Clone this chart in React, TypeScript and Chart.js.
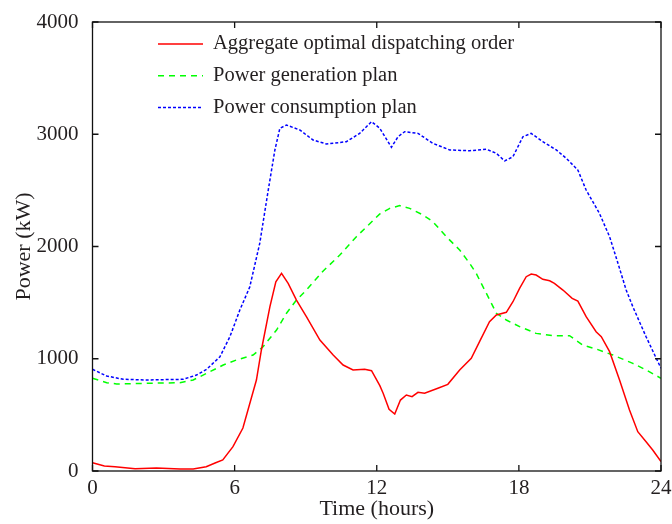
import React, { useEffect, useRef } from 'react';
import { Chart, registerables } from 'chart.js';

Chart.register(...registerables);

const seriesLabels = [
  'Aggregate optimal dispatching order',
  'Power generation plan',
  'Power consumption plan',
];

const aggHours = [0, 0.5, 0.95, 1.8, 2.7, 3.7, 4.25, 4.8, 5.2, 5.5, 5.93, 6.35, 6.92, 7.13, 7.49, 7.74, 7.98, 8.26, 8.61, 9.03, 9.6, 10.16, 10.58, 11.0, 11.49, 11.78, 12.13, 12.27, 12.52, 12.76, 13.0, 13.25, 13.49, 13.74, 14.02, 14.58, 15.0, 15.5, 15.99, 16.34, 16.76, 17.05, 17.47, 17.75, 18.03, 18.31, 18.52, 18.73, 19.01, 19.3, 19.5, 19.86, 20.25, 20.49, 20.84, 21.26, 21.48, 21.83, 22.25, 22.67, 23.02, 23.37, 23.65, 24];
const aggValues = [74, 45, 38, 20, 27, 18, 18, 38, 74, 98, 217, 383, 810, 1078, 1464, 1686, 1761, 1672, 1523, 1375, 1167, 1033, 944, 900, 906, 893, 760, 692, 550, 508, 632, 677, 662, 701, 692, 737, 772, 900, 1004, 1152, 1330, 1390, 1414, 1508, 1627, 1731, 1755, 1746, 1708, 1695, 1672, 1612, 1538, 1514, 1375, 1241, 1196, 1063, 811, 543, 350, 261, 187, 85];

const genHours = [0, 0.6, 1.02, 2.29, 3.69, 4.25, 4.82, 5.52, 6.08, 6.78, 7.2, 7.77, 8.19, 8.61, 9.03, 9.73, 10.44, 11.14, 12.13, 12.55, 12.97, 13.39, 13.95, 14.37, 14.94, 15.5, 15.92, 16.2, 16.41, 16.63, 17.05, 17.47, 18.03, 18.73, 19.44, 20.14, 20.7, 21.26, 21.97, 22.81, 23.37, 24];
const genValues = [826, 787, 775, 781, 787, 811, 870, 944, 989, 1033, 1107, 1256, 1405, 1523, 1612, 1780, 1924, 2087, 2290, 2340, 2364, 2340, 2281, 2221, 2087, 1969, 1850, 1761, 1672, 1583, 1405, 1345, 1286, 1226, 1205, 1205, 1122, 1087, 1033, 959, 900, 826];

const conHours = [0, 0.6, 1.3, 2.29, 3.83, 4.39, 4.82, 5.38, 5.8, 6.22, 6.64, 7.06, 7.42, 7.7, 7.91, 8.19, 8.75, 9.31, 9.88, 10.72, 11.28, 11.78, 12.13, 12.62, 12.9, 13.18, 13.74, 14.37, 15.08, 15.92, 16.63, 17.05, 17.4, 17.75, 18.17, 18.52, 19.01, 19.58, 20.0, 20.49, 20.84, 21.4, 21.83, 22.11, 22.53, 22.81, 23.37, 23.8, 24];
const conValues = [906, 846, 817, 811, 817, 855, 906, 1018, 1196, 1434, 1640, 2028, 2503, 2860, 3053, 3082, 3038, 2949, 2913, 2934, 3008, 3112, 3053, 2884, 2978, 3023, 3008, 2919, 2860, 2853, 2866, 2830, 2762, 2800, 2978, 3008, 2934, 2860, 2786, 2681, 2503, 2296, 2087, 1900, 1612, 1464, 1196, 1004, 915];

const xTickValues = [0, 6, 12, 18, 24];
const yTickValues = [0, 1000, 2000, 3000, 4000];

const FONT = '"Liberation Serif", "Times New Roman", serif';
const TEXT = '#231f20';

export default function App() {
  const ref = useRef<HTMLCanvasElement>(null);

  useEffect(() => {
    if (!ref.current) return;

    const framePlugin = {
      id: 'frame',
      afterDraw(chart: any) {
        const { ctx, chartArea } = chart;
        const { left, right, top, bottom } = chartArea;
        const xs = chart.scales.x;
        const ys = chart.scales.y;
        const tl = 6;
        ctx.save();
        ctx.strokeStyle = '#111';
        ctx.lineWidth = 1.3;
        ctx.strokeRect(left, top, right - left, bottom - top);
        ctx.beginPath();
        xTickValues.forEach((v) => {
          const px = xs.getPixelForValue(v);
          ctx.moveTo(px, bottom);
          ctx.lineTo(px, bottom - tl);
          ctx.moveTo(px, top);
          ctx.lineTo(px, top + tl);
        });
        yTickValues.forEach((v) => {
          const py = ys.getPixelForValue(v);
          ctx.moveTo(left, py);
          ctx.lineTo(left + tl, py);
          ctx.moveTo(right, py);
          ctx.lineTo(right - tl, py);
        });
        ctx.stroke();
        ctx.restore();
      },
    };

    const legendPlugin = {
      id: 'insideLegend',
      afterDraw(chart: any) {
        const { ctx } = chart;
        ctx.save();
        chart.data.datasets.forEach((ds: any, i: number) => {
          const y = 44 + i * 31.7;
          ctx.beginPath();
          ctx.strokeStyle = ds.borderColor;
          ctx.lineWidth = ds.borderWidth;
          ctx.setLineDash(ds.borderDash || []);
          ctx.moveTo(158, y);
          ctx.lineTo(203, y);
          ctx.stroke();
          ctx.setLineDash([]);
          ctx.fillStyle = TEXT;
          ctx.font = `20.5px ${FONT}`;
          ctx.textBaseline = 'middle';
          ctx.textAlign = 'left';
          ctx.fillText(ds.label, 213, y);
        });
        ctx.restore();
      },
    };

    const chart = new Chart(ref.current, {
      type: 'line',
      data: {
        datasets: [
          {
            label: seriesLabels[0],
            data: aggHours.map((h, i) => ({ x: h, y: aggValues[i] })),
            borderColor: '#ff0000',
            borderWidth: 1.5,
            pointRadius: 0,
            tension: 0,
            fill: false,
          },
          {
            label: seriesLabels[1],
            data: genHours.map((h, i) => ({ x: h, y: genValues[i] })),
            borderColor: '#00ff00',
            borderWidth: 1.5,
            borderDash: [6, 5],
            pointRadius: 0,
            tension: 0,
            fill: false,
          },
          {
            label: seriesLabels[2],
            data: conHours.map((h, i) => ({ x: h, y: conValues[i] })),
            borderColor: '#0000ff',
            borderWidth: 1.5,
            borderDash: [3, 2],
            pointRadius: 0,
            tension: 0,
            fill: false,
          },
        ],
      },
      options: {
        responsive: false,
        animation: false,
        layout: { padding: { top: 22, right: 11, left: 0, bottom: 0 } },
        plugins: { legend: { display: false }, tooltip: { enabled: false } },
        scales: {
          x: {
            type: 'linear',
            min: 0,
            max: 24,
            afterBuildTicks: (s: any) => {
              s.ticks = xTickValues.map((v) => ({ value: v }));
            },
            afterFit: (s: any) => {
              s.height = 53;
              s.paddingLeft = 0;
              s.paddingRight = 0;
            },
            grid: { display: false },
            border: { display: false },
            ticks: {
              font: { family: FONT, size: 21 },
              color: TEXT,
              padding: -3,
              maxRotation: 0,
              callback: (v: any) => String(v),
            },
            title: {
              display: true,
              text: 'Time (hours)',
              font: { family: FONT, size: 22 },
              color: TEXT,
              padding: { top: 0, bottom: 1.5 },
            },
          },
          y: {
            type: 'linear',
            min: 0,
            max: 4000,
            afterBuildTicks: (s: any) => {
              s.ticks = yTickValues.map((v) => ({ value: v }));
            },
            afterFit: (s: any) => {
              s.width = 92.5;
              s.paddingTop = 0;
              s.paddingBottom = 0;
            },
            grid: { display: false },
            border: { display: false },
            ticks: {
              font: { family: FONT, size: 21 },
              color: TEXT,
              padding: 6,
              callback: (v: any) => String(v),
            },
            title: {
              display: true,
              text: 'Power (kW)',
              font: { family: FONT, size: 22 },
              color: TEXT,
              padding: { top: 11, bottom: 0 },
            },
          },
        },
      },
      plugins: [framePlugin, legendPlugin],
    });

    return () => chart.destroy();
  }, []);

  return (
    <canvas
      ref={ref}
      width={672}
      height={524}
      style={{ position: 'fixed', left: 0, top: 0, width: 672, height: 524 }}
    />
  );
}
